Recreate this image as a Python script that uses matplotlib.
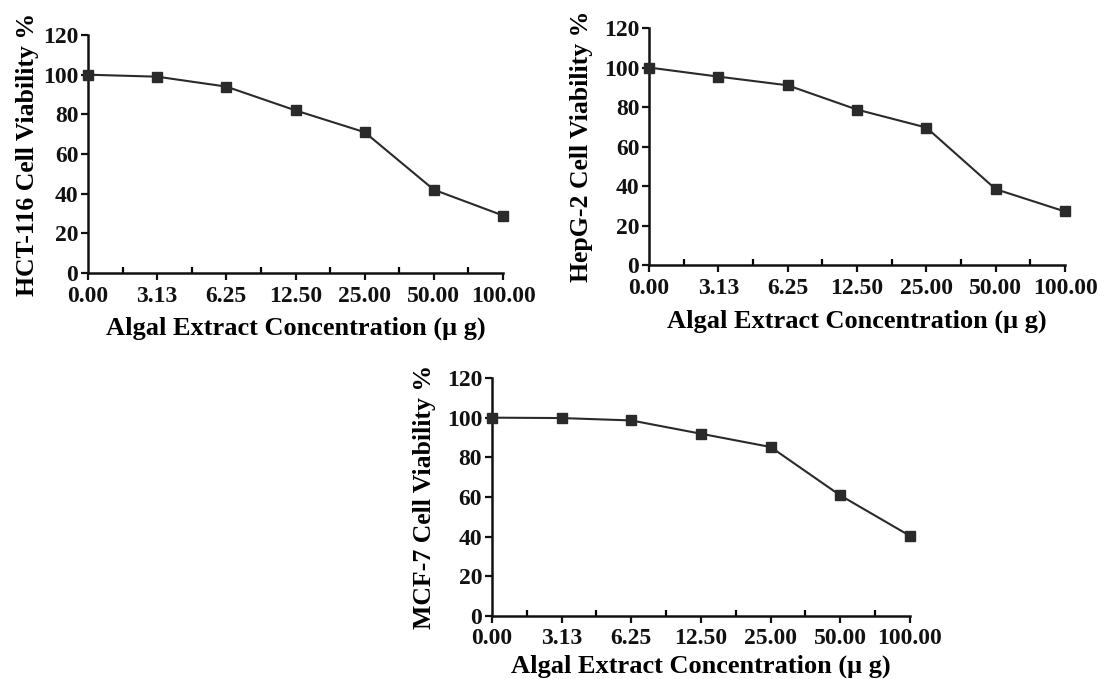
import matplotlib
matplotlib.use("Agg")
import matplotlib.pyplot as plt
from matplotlib.ticker import FixedLocator

plt.rcParams["font.family"] = ["Liberation Serif", "DejaVu Serif"]
plt.rcParams["font.weight"] = "bold"

CONC_LABELS = ["0.00", "3.13", "6.25", "12.50", "25.00", "50.00", "100.00"]

HCT116_VIABILITY = [100, 99, 94, 82, 71, 42, 29]
HEPG2_VIABILITY = [100, 95.4, 91, 78.7, 69.6, 38.4, 27.1]
MCF7_VIABILITY = [100, 99.8, 98.6, 91.9, 85.2, 60.8, 40.4]

# (y label, values, axes rect, x labelpad, y labelpad)
PANELS = [
    ("HCT-116 Cell Viability %", HCT116_VIABILITY, [0.0795, 0.5979, 0.3749, 0.3505], 7, 3),
    ("HepG-2 Cell Viability %", HEPG2_VIABILITY, [0.5863, 0.6097, 0.3758, 0.3490], 8, 8),
    ("MCF-7 Cell Viability %", MCF7_VIABILITY, [0.4444, 0.0928, 0.3776, 0.3505], 4, 8),
]

XLABEL = "Algal Extract Concentration (\u03bc g)"


def draw_panel(fig, ylabel, values, rect, xpad, ypad):
    ax = fig.add_axes(rect)
    x = list(range(len(CONC_LABELS)))
    ax.plot(x, values, color="#2a2a2a", linewidth=1.5, marker="s",
            markersize=7.5, markerfacecolor="#2a2a2a", markeredgecolor="#2a2a2a",
            clip_on=False, zorder=3)
    ax.set_xlim(0, len(CONC_LABELS) - 1)
    ax.set_ylim(0, 120)
    ax.set_xticks(x)
    ax.set_xticklabels(CONC_LABELS)
    ax.xaxis.set_minor_locator(FixedLocator([i + 0.5 for i in x[:-1]]))
    ax.set_yticks(range(0, 121, 20))

    for side in ("top", "right"):
        ax.spines[side].set_visible(False)
    for side in ("left", "bottom"):
        ax.spines[side].set_linewidth(1.8)
        ax.spines[side].set_color("#111111")

    ax.tick_params(axis="x", which="major", direction="out", length=5,
                   width=1.6, labelsize=17, pad=4, colors="#111111")
    ax.tick_params(axis="x", which="minor", direction="in", length=4,
                   width=1.6)
    ax.tick_params(axis="y", which="major", direction="out", length=5,
                   width=1.6, labelsize=17, pad=2, colors="#111111")
    for lab in ax.get_xticklabels() + ax.get_yticklabels():
        lab.set_fontweight("bold")

    ax.set_xlabel(XLABEL, fontsize=19, fontweight="bold", labelpad=xpad)
    ax.set_ylabel(ylabel, fontsize=18.5, fontweight="bold", labelpad=ypad)
    return ax


fig = plt.figure(figsize=(11.07, 6.79), dpi=100)
for ylabel, values, rect, xpad, ypad in PANELS:
    draw_panel(fig, ylabel, values, rect, xpad, ypad)

fig.savefig("out.png", dpi=100, facecolor="white")
